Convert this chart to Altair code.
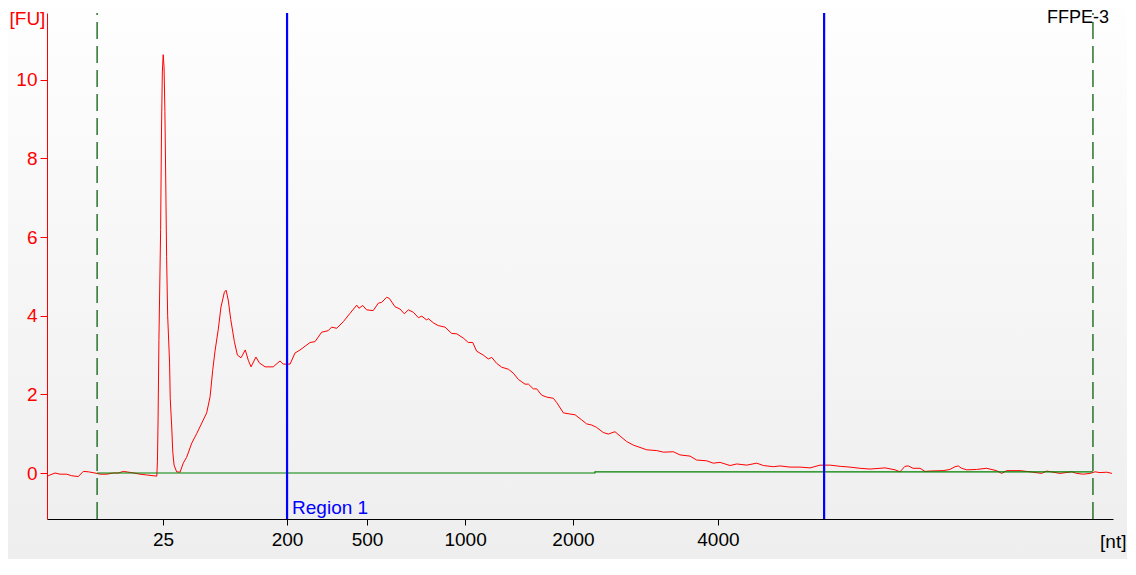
import json
import altair as alt
import pandas as pd

# ---- data (migration time in seconds vs fluorescence units) ----
time_s = [20.03, 20.14, 20.38, 20.61, 20.92, 21.16, 21.47, 21.70, 21.94, 22.25, 22.49, 22.80, 23.11, 23.34,
          23.58, 23.97, 24.36, 24.68, 25.15, 25.18, 25.21, 25.25, 25.33, 25.37, 25.41, 25.45, 25.49, 25.53,
          25.57, 25.61, 25.66, 25.75, 25.78, 25.85, 25.90, 25.96, 26.08, 26.24, 26.39, 26.55, 26.79, 27.02,
          27.26, 27.49, 27.65, 27.77, 27.88, 28.03, 28.16, 28.32, 28.40, 28.50, 28.62, 28.79, 28.93, 29.10,
          29.30, 29.44, 29.57, 29.80, 29.96, 30.23, 30.61, 30.93, 31.08, 31.40, 31.63, 31.87, 32.34, 32.57,
          32.88, 33.19, 33.35, 33.59, 33.90, 34.21, 34.53, 34.63, 34.81, 34.99, 35.30, 35.54, 35.70, 35.93,
          36.06, 36.32, 36.56, 36.76, 36.95, 37.18, 37.42, 37.58, 37.81, 37.88, 38.12, 38.35, 38.67, 38.98,
          39.22, 39.53, 39.76, 39.97, 40.15, 40.46, 40.70, 40.86, 41.09, 41.33, 41.64, 41.87, 42.11, 42.42,
          42.58, 42.81, 42.97, 43.20, 43.44, 43.75, 43.91, 44.22, 44.53, 44.77, 45.08, 45.31, 45.55, 45.78,
          46.09, 46.33, 46.64, 46.88, 47.19, 47.50, 48.13, 48.60, 48.91, 49.38, 49.69, 50.16, 50.47, 50.94,
          51.25, 51.57, 52.04, 52.35, 52.82, 53.29, 53.60, 54.07, 54.38, 54.85, 55.32, 55.79, 56.26, 56.73,
          57.20, 57.66, 58.13, 58.60, 59.31, 59.78, 60.01, 60.24, 60.40, 60.62, 60.95, 61.18, 61.42, 62.03,
          62.35, 62.59, 62.74, 62.90, 63.14, 63.60, 64.07, 64.54, 64.78, 65.01, 65.64, 66.11, 66.65, 66.89,
          67.51, 68.06, 68.30, 68.61, 68.92, 69.16, 69.39, 69.71, 69.95]
fu = [-0.08, -0.05, 0.00, -0.03, -0.03, -0.07, -0.09, 0.04, 0.03, 0.00, -0.03, -0.03, 0.00, 0.00,
      0.04, 0.01, -0.03, -0.05, -0.08, 0.30, 1.35, 3.40, 6.20, 8.70, 10.20, 10.64, 10.33, 9.20,
      7.40, 5.50, 4.00, 2.80, 1.90, 1.17, 0.53, 0.20, 0.03, 0.02, 0.25, 0.40, 0.76, 1.00,
      1.27, 1.53, 1.94, 2.60, 3.10, 3.64, 4.22, 4.60, 4.65, 4.40, 3.90, 3.34, 3.00, 2.93,
      3.13, 2.87, 2.70, 2.95, 2.80, 2.70, 2.70, 2.85, 2.77, 2.77, 3.05, 3.13, 3.32, 3.34,
      3.58, 3.62, 3.71, 3.68, 3.85, 4.06, 4.27, 4.19, 4.26, 4.15, 4.13, 4.32, 4.34, 4.47,
      4.44, 4.23, 4.17, 4.05, 4.15, 4.09, 3.95, 3.99, 3.89, 3.93, 3.82, 3.75, 3.71, 3.55,
      3.54, 3.43, 3.32, 3.32, 3.10, 3.00, 2.90, 2.94, 2.79, 2.69, 2.64, 2.54, 2.38, 2.26,
      2.26, 2.14, 2.14, 1.98, 1.93, 1.90, 1.79, 1.53, 1.50, 1.48, 1.35, 1.25, 1.22, 1.16,
      1.03, 0.99, 1.05, 0.94, 0.80, 0.71, 0.59, 0.57, 0.53, 0.54, 0.46, 0.43, 0.33, 0.31,
      0.25, 0.27, 0.19, 0.23, 0.20, 0.25, 0.19, 0.16, 0.18, 0.15, 0.15, 0.13, 0.20, 0.20,
      0.17, 0.15, 0.12, 0.10, 0.13, 0.08, 0.03, 0.17, 0.18, 0.12, 0.12, 0.04, 0.05, 0.06,
      0.09, 0.16, 0.18, 0.12, 0.08, 0.09, 0.12, 0.06, -0.01, 0.06, 0.06, 0.03, -0.01, 0.05,
      -0.01, 0.03, -0.01, -0.03, -0.01, 0.03, 0.01, 0.02, -0.01]

# ladder calibration: tick positions (time) and their size labels (nt)
tick_times = [25.44, 31.26, 35.01, 39.61, 44.67, 51.47]
tick_labels = ["25", "200", "500", "1000", "2000", "4000"]

marker_times = [22.35, 69.06]          # lower / upper marker (dashed)
region_times = [31.26, 56.45]          # Region 1 boundaries
region_label = ["Region 1"]
baseline_t = [22.35, 45.70, 45.70, 69.06]
baseline_v = [0.00, 0.00, 0.03, 0.03]
sample_name = ["FFPE-3"]

# ---- chart ----
W, H = 1066, 506
FONT = "Liberation Sans"

label_expr = f"{json.dumps(tick_labels)}[indexof({json.dumps(tick_times)}, datum.value)]"

xscale = alt.Scale(domain=[20, 70], nice=False, zero=False)
yscale = alt.Scale(domain=[-1.17, 11.70], nice=False, zero=False)

xaxis = alt.Axis(values=tick_times, labelExpr=label_expr, grid=False, zindex=3,
                 domainColor="black", tickColor="black", tickSize=6, labelPadding=5,
                 labelFont=FONT, labelFontSize=19, labelColor="black",
                 title="[nt]", titleFont=FONT, titleFontSize=19, titleFontWeight="normal",
                 titleColor="black", titleAnchor="end", titleAlign="right",
                 titleX=W + 13, titleY=28, titleBaseline="alphabetic", labelFlush=False)
yaxis = alt.Axis(values=[0, 2, 4, 6, 8, 10], grid=False, zindex=3,
                 domainColor="red", tickColor="red", tickSize=7, labelPadding=3,
                 labelFont=FONT, labelFontSize=19, labelColor="red",
                 title="[FU]", titleFont=FONT, titleFontSize=19, titleFontWeight="normal",
                 titleColor="red", titleAngle=0, titleAlign="left", titleX=-38,
                 titleY=11, titleBaseline="alphabetic", labelFlush=False)

X = alt.X("t:Q", scale=xscale, axis=xaxis)
Y = alt.Y("v:Q", scale=yscale, axis=yaxis)

curve_df = pd.DataFrame({"t": time_s, "v": fu})
base_df = pd.DataFrame({"t": baseline_t, "v": baseline_v, "o": range(len(baseline_t))})
marker_df = pd.DataFrame({"t": marker_times})
region_df = pd.DataFrame({"t": region_times})
label_df = pd.DataFrame({"t": [region_times[0]], "v": [-1.04], "label": region_label})
name_df = pd.DataFrame({"label": sample_name})

grad = alt.LinearGradient(gradient="linear",
                          stops=[alt.GradientStop(color="#fefefe", offset=0),
                                 alt.GradientStop(color="#eeeeee", offset=1)],
                          x1=0, x2=0, y1=0, y2=1)
bg = alt.Chart(pd.DataFrame({"a": [0]})).mark_rect(fill=grad, strokeWidth=0).encode(
    x=alt.value(-39), x2=alt.value(W + 14), y=alt.value(-5), y2=alt.value(H + 40))

curve = alt.Chart(curve_df).mark_line(color="#ff0000", strokeWidth=1, interpolate="linear").encode(x=X, y=Y)
baseline = alt.Chart(base_df).mark_line(color="#008000", strokeWidth=1.2).encode(x=X, y=Y, order="o:Q")
regions = alt.Chart(region_df).mark_rule(color="#0000ff", strokeWidth=2.2).encode(x=X)
markers = alt.Chart(marker_df).mark_rule(color="#0b5e0b", strokeWidth=1.3, strokeDash=[17, 7],
                                         strokeDashOffset=15).encode(x=X)
rlabel = alt.Chart(label_df).mark_text(color="#0000ff", font=FONT, fontSize=19, align="left",
                                       baseline="alphabetic", dx=5).encode(x=X, y=Y, text="label:N")
name = alt.Chart(name_df).mark_text(color="black", font=FONT, fontSize=18, align="right",
                                    baseline="alphabetic").encode(
    x=alt.value(W - 4), y=alt.value(10), text="label:N")

chart = alt.layer(bg, curve, baseline, regions, markers, rlabel, name).properties(
    width=W, height=H,
    autosize=alt.AutoSizeParams(type="none"),
    padding={"left": 39, "top": 5, "right": 14, "bottom": 40},
).configure_view(stroke=None).configure(background="#f0f0f0")

chart.save("out.html", embed_options={"renderer": "svg", "actions": False})
